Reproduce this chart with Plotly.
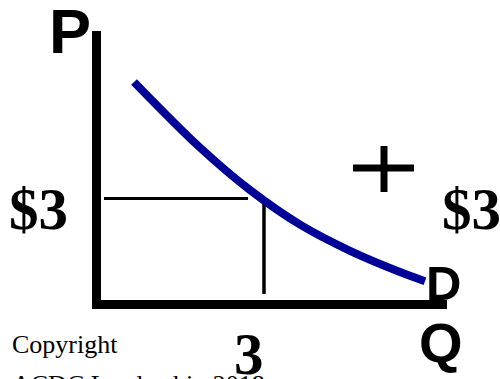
import plotly.graph_objects as go

W, H = 500, 379

# ---- data (economic units) ----
demand_q = [0.672, 1.855, 2.749, 3.646, 4.541, 5.436, 5.884]
demand_p = [6.30, 4.44, 3.24, 2.26, 1.52, 0.92, 0.66]
eq_q = 3
eq_p = 3
price_label = "$3"
qty_label = "3"

# ---- scale: pixel mapping ----
ox, oy = 96.5, 304.5      # origin in pixels
sx, sy = 55.83, 35.33     # pixels per unit
x_range = [-ox / sx, (W - ox) / sx]
y_range = [-(H - oy) / sy, oy / sy]

def px(xpix):
    return xpix / W

def py(ypix):
    return 1 - ypix / H

fig = go.Figure()

# axes (thick black)
fig.add_trace(go.Scatter(x=[0, 0], y=[-(309 - oy) / sy, (oy - 31) / sy], mode="lines",
                         line=dict(color="black", width=9), hoverinfo="skip"))
fig.add_trace(go.Scatter(x=[-(ox - 93) / sx, (447 - ox) / sx], y=[0, 0], mode="lines",
                         line=dict(color="black", width=9), hoverinfo="skip"))

# equilibrium guide lines
fig.add_trace(go.Scatter(x=[0.134, eq_q - 0.286], y=[eq_p, eq_p], mode="lines",
                         line=dict(color="black", width=3), hoverinfo="skip"))
fig.add_trace(go.Scatter(x=[eq_q, eq_q], y=[eq_p, 0.297], mode="lines",
                         line=dict(color="black", width=3.5), hoverinfo="skip"))

# demand curve
fig.add_trace(go.Scatter(x=demand_q, y=demand_p, mode="lines",
                         line=dict(color="#000099", width=8, shape="spline", smoothing=1.0),
                         hoverinfo="skip"))

sans = "Liberation Sans, Arial, sans-serif"
serif = "Liberation Serif, Times New Roman, serif"

def ann(text, xpix, ytop, size, family, bold=True):
    t = f"<b>{text}</b>" if bold else text
    return dict(text=t, x=px(xpix), y=py(ytop), xref="paper", yref="paper",
                xanchor="left", yanchor="top", showarrow=False,
                font=dict(size=size, family=family, color="black"))

annotations = [
    ann("P", 47, -6, 63, sans),
    ann("D", 424, 254, 49, sans),
    ann("Q", 416.5, 309, 56, sans),
    ann(price_label, 7, 174, 59, serif),
    ann(price_label, 440, 174, 59, serif),
    ann(qty_label, 232, 319.4, 59, serif),
    ann("Copyright", 10, 328, 26, serif, bold=False),
    ann("ACDC Leadership 2018", 10, 368, 26, serif, bold=False),
]

shapes = [
    dict(type="line", xref="paper", yref="paper", x0=px(353), x1=px(414), y0=py(168), y1=py(168),
         line=dict(color="black", width=7)),
    dict(type="line", xref="paper", yref="paper", x0=px(384), x1=px(384), y0=py(146), y1=py(192),
         line=dict(color="black", width=7)),
]

fig.update_layout(
    width=W, height=H,
    margin=dict(l=0, r=0, t=0, b=0),
    paper_bgcolor="white", plot_bgcolor="white",
    showlegend=False,
    xaxis=dict(range=x_range, visible=False, fixedrange=True),
    yaxis=dict(range=y_range, visible=False, fixedrange=True),
    annotations=annotations,
    shapes=shapes,
)

fig.write_html("out.html", config={"displayModeBar": False},
               post_script="document.body.style.margin='0';document.body.style.overflow='hidden';")
